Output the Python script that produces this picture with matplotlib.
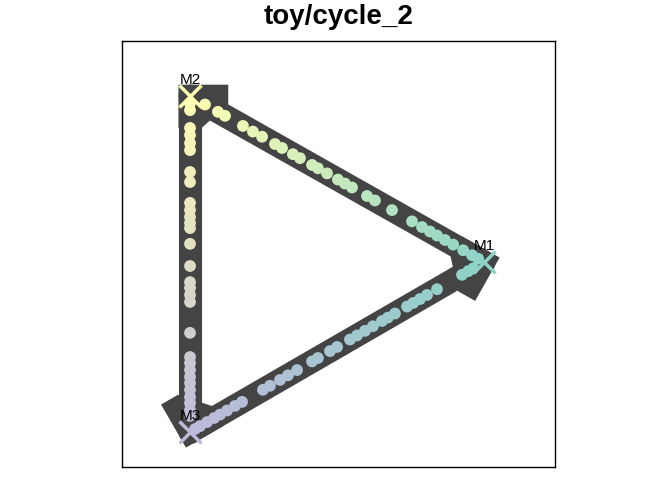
import numpy as np
import matplotlib
matplotlib.use("Agg")
import matplotlib.pyplot as plt
from matplotlib.colors import to_rgb
from matplotlib.patches import Polygon

plt.rcParams['font.family'] = ['Liberation Sans', 'DejaVu Sans']

# milestones (dimred coordinates) and their colours
milestone_ids = ["M1", "M2", "M3"]
milestone_x = [1.0, -0.5, -0.5]
milestone_y = [0.005, 0.852, -0.862]
milestone_cols = ["#8DD3C7", "#FFFFB3", "#BEBADA"]

# edges of the cycle
edge_from = ["M1", "M2", "M3"]
edge_to = ["M2", "M3", "M1"]

# cell progressions along each edge (percentage from 'from' to 'to')
prog_m1_m2 = [0.02, 0.041, 0.071, 0.105, 0.133, 0.160, 0.184, 0.211, 0.245, 0.313,
              0.371, 0.398, 0.449, 0.473, 0.497, 0.534, 0.565, 0.585, 0.626, 0.650,
              0.687, 0.711, 0.755, 0.786, 0.820, 0.881, 0.905, 0.949]
prog_m2_m3 = [0.021, 0.042, 0.095, 0.116, 0.140, 0.161, 0.226, 0.256, 0.318, 0.339,
              0.360, 0.378, 0.393, 0.440, 0.506, 0.554, 0.571, 0.592, 0.613, 0.705,
              0.777, 0.795, 0.815, 0.836, 0.854, 0.875, 0.896, 0.914, 0.935, 0.952]
prog_m3_m1 = [0.017, 0.034, 0.058, 0.082, 0.102, 0.126, 0.153, 0.177, 0.248, 0.272,
              0.306, 0.333, 0.364, 0.415, 0.435, 0.476, 0.500, 0.544, 0.568, 0.595,
              0.622, 0.653, 0.673, 0.697, 0.738, 0.759, 0.782, 0.806, 0.840, 0.925,
              0.946, 0.963]
progressions = [prog_m1_m2, prog_m2_m3, prog_m3_m1]

band_col = "#444444"
band_lw = 16.6
half_w = 0.059   # half band width in data units

pos = {m: np.array([x, y]) for m, x, y in zip(milestone_ids, milestone_x, milestone_y)}
col = {m: np.array(to_rgb(c)) for m, c in zip(milestone_ids, milestone_cols)}

fig = plt.figure(figsize=(6.72, 4.8), dpi=100)
ax = fig.add_axes([122 / 672, 13 / 480, 433 / 672, 426 / 480])

# trajectory bands
for f, t in zip(edge_from, edge_to):
    a, b = pos[f], pos[t]
    ax.plot([a[0], b[0]], [a[1], b[1]], color=band_col, lw=band_lw,
            solid_capstyle='round', zorder=1)
    # flag at the start of each edge
    u = (b - a) / np.linalg.norm(b - a)
    s = np.array([-u[1], u[0]])
    pts = [a - 0.058 * u - half_w * s,
           a - 0.058 * u + 0.195 * s,
           a + 0.041 * u + 0.195 * s,
           a + 0.163 * u + half_w * s,
           a + 0.163 * u - half_w * s]
    ax.add_patch(Polygon(pts, closed=True, facecolor=band_col, edgecolor='none', zorder=1))

# cells
for f, t, pr in zip(edge_from, edge_to, progressions):
    pr = np.array(pr)[:, None]
    xy = pos[f] * (1 - pr) + pos[t] * pr
    cc = col[f] * (1 - pr) + col[t] * pr
    ax.scatter(xy[:, 0], xy[:, 1], s=72, c=cc, edgecolors='none', zorder=2)

# milestones
for m in milestone_ids:
    ax.plot(pos[m][0], pos[m][1], marker='x', markersize=16, mew=2.5,
            color=col[m], zorder=3)
    ax.annotate(m, pos[m], xytext=(0, 8.5), textcoords='offset points',
                ha='center', va='baseline', fontsize=11, zorder=4)

ax.set_xlim(-0.847, 1.362)
ax.set_ylim(-1.041, 1.133)
ax.set_xticks([])
ax.set_yticks([])
for sp in ax.spines.values():
    sp.set_linewidth(1.0)
    sp.set_color('black')
ax.set_title("toy/cycle_2", fontsize=20, fontweight='bold', pad=12)

fig.savefig("out.png", dpi=100)
